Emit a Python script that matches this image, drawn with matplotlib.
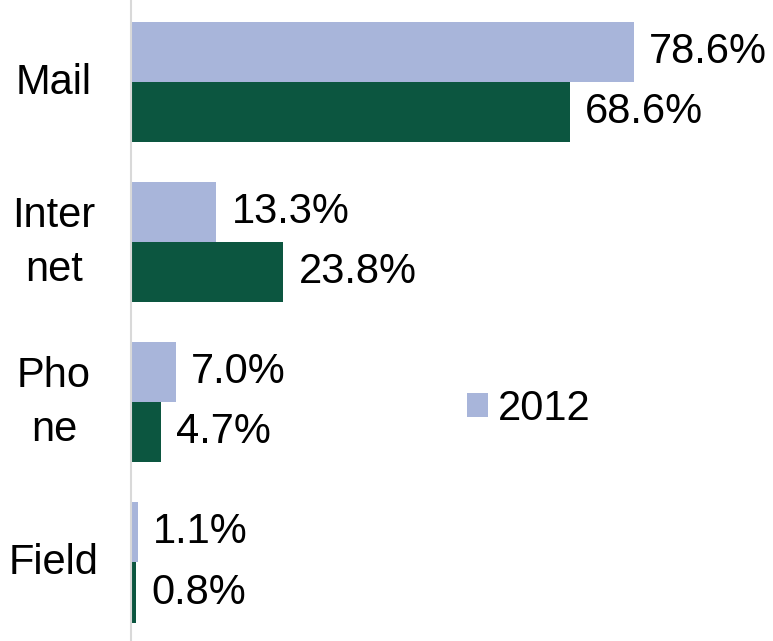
import matplotlib.pyplot as plt
import numpy as np

categories = ["Mail", "Inter\nnet", "Pho\nne", "Field"]
share_2012 = [78.6, 13.3, 7.0, 1.1]
share_other = [68.6, 23.8, 4.7, 0.8]

light = "#a8b5da"
dark = "#0c5640"

plt.rcParams['font.family'] = ['Liberation Sans', 'DejaVu Sans']
fs = 30

fig = plt.figure(figsize=(7.73, 6.41), dpi=100)
ax = fig.add_axes([131 / 773, 0, 640 / 773, 1])

y = np.arange(len(categories))
h = 0.375
b1 = ax.barh(y - h / 2, share_2012, height=h, color=light, label="2012")
b2 = ax.barh(y + h / 2, share_other, height=h, color=dark)

for bars, vals in ((b1, share_2012), (b2, share_other)):
    for bar, v in zip(bars, vals):
        ax.annotate(f"{v:.1f}%", (bar.get_width(), bar.get_y() + bar.get_height() / 2),
                    xytext=(11, 0), textcoords="offset points",
                    ha="left", va="center", fontsize=fs)

ax.set_xlim(0, 100)
ax.set_ylim(3.49, -0.51)
ax.set_xticks([])
ax.set_yticks([])
for s in ["top", "right", "bottom"]:
    ax.spines[s].set_visible(False)
ax.spines["left"].set_color("#d9d9d9")
ax.spines["left"].set_linewidth(1.5)

# category names sit centred in the left margin
for yi, name in zip(y, categories):
    fig.text(54 / 773, 1 - (83 + 160 * yi) / 641, name, ha="center", va="center",
             fontsize=fs, linespacing=1.45)

fig.legend(handles=[b1], loc="center left", bbox_to_anchor=(467 / 773, 1 - 409 / 641),
           frameon=False, fontsize=fs, handlelength=0.5, handleheight=0.5,
           handletextpad=0.25, borderpad=0, borderaxespad=0)

fig.savefig("out.png", dpi=100)
